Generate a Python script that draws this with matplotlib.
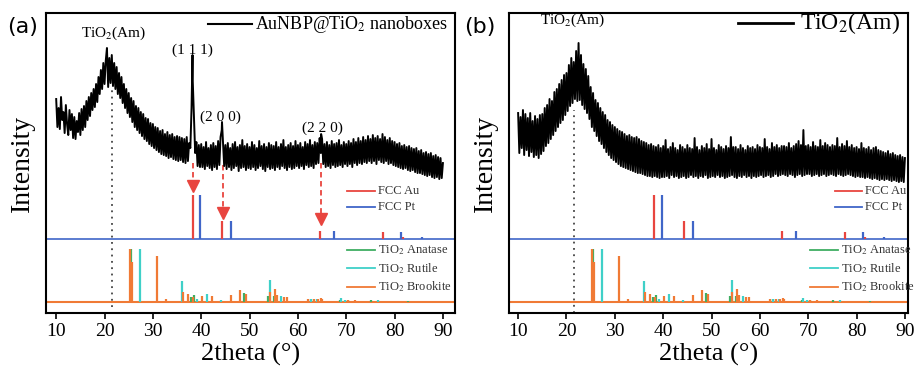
import numpy as np
import matplotlib.pyplot as plt

plt.rcParams['font.family'] = 'serif'
plt.rcParams['font.serif'] = ['Liberation Serif', 'DejaVu Serif']
plt.rcParams['mathtext.fontset'] = 'stix'

# XRD scans, every 0.25 deg from 10 to 90 (a.u., with offset)
two_theta = np.arange(10, 90.001, 0.25)

nanobox = [214, 186, 205, 184, 216, 193, 201, 180, 208, 189, 178, 203, 183, 199, 175, 196, 174, 192, 181, 200,
           178, 204, 183, 207, 186, 212, 193, 216, 197, 220, 203, 224, 206, 229, 211, 236, 219, 243, 224, 250,
           229, 252, 265, 226, 255, 230, 258, 227, 250, 224, 246, 219, 240, 215, 236, 210, 229, 205, 224, 200,
           220, 196, 215, 191, 212, 186, 207, 183, 205, 180, 201, 177, 199, 174, 195, 172, 194, 169, 190, 167,
           189, 165, 186, 163, 185, 161, 182, 159, 183, 158, 179, 157, 181, 155, 178, 156, 179, 154, 176, 153,
           177, 152, 176, 153, 175, 151, 174, 150, 176, 152, 170, 165, 205, 232, 195, 160, 171, 147, 168, 146,
           169, 146, 166, 144, 171, 147, 165, 145, 168, 143, 170, 146, 167, 144, 172, 148, 176, 183, 172, 147,
           168, 144, 170, 146, 165, 143, 169, 145, 171, 147, 166, 142, 168, 145, 173, 146, 167, 143, 169, 145,
           166, 144, 171, 146, 168, 143, 165, 145, 172, 147, 167, 144, 169, 142, 166, 146, 170, 144, 168, 145,
           167, 143, 171, 146, 166, 144, 169, 147, 173, 145, 166, 143, 168, 146, 170, 144, 167, 145, 172, 147,
           168, 145, 170, 147, 166, 144, 171, 148, 169, 146, 173, 147, 168, 145, 171, 149, 170, 150, 175, 160,
           174, 149, 169, 146, 171, 147, 168, 145, 172, 148, 169, 146, 170, 147, 173, 148, 168, 146, 171, 149,
           169, 147, 172, 149, 170, 146, 174, 150, 171, 148, 175, 150, 172, 149, 176, 151, 173, 150, 177, 152,
           174, 150, 178, 152, 175, 149, 177, 153, 174, 151, 179, 150, 176, 152, 173, 149, 175, 150, 172, 148,
           171, 147, 169, 146, 170, 145, 167, 144, 168, 145, 166, 143, 167, 142, 165, 143, 164, 141, 165, 140,
           162, 140, 163, 139, 160, 138, 161, 137, 159, 138, 160, 136, 157, 135, 158, 136, 156, 134, 155, 135,
           150]
nanobox_peak_x = [38.2, 44.3, 64.8]
nanobox_peak_y = [258, 191, 179]

amorphous = [200, 160, 196, 165, 203, 158, 199, 163, 195, 157, 200, 161, 192, 156, 197, 158, 194, 155, 198, 159,
             199, 162, 205, 167, 208, 170, 214, 174, 212, 178, 221, 182, 224, 186, 229, 190, 233, 193, 238, 198,
             240, 202, 248, 207, 255, 210, 251, 214, 262, 212, 270, 213, 258, 208, 249, 204, 244, 200, 237, 194,
             226, 186, 220, 182, 213, 177, 210, 172, 205, 169, 201, 165, 198, 161, 193, 158, 191, 155, 188, 153,
             186, 151, 184, 149, 182, 147, 181, 146, 179, 145, 177, 144, 178, 143, 176, 142, 175, 141, 176, 140,
             174, 140, 172, 139, 171, 138, 170, 137, 168, 137, 169, 136, 167, 137, 166, 136, 168, 135, 165, 136,
             167, 136, 173, 137, 164, 135, 166, 138, 170, 136, 165, 137, 163, 135, 168, 136, 166, 137, 164, 135,
             168, 136, 165, 138, 164, 136, 175, 137, 166, 135, 163, 137, 167, 136, 165, 138, 169, 135, 164, 136,
             174, 137, 165, 136, 163, 138, 168, 136, 166, 137, 164, 135, 167, 136, 165, 137, 176, 138, 166, 136,
             166, 135, 164, 137, 168, 136, 165, 138, 163, 136, 167, 137, 165, 135, 166, 137, 164, 136, 168, 137,
             166, 138, 165, 136, 174, 137, 166, 138, 164, 136, 170, 137, 166, 139, 168, 137, 165, 138, 167, 139,
             167, 138, 166, 137, 170, 139, 165, 138, 167, 136, 169, 138, 172, 139, 168, 137, 183, 138, 167, 139,
             168, 139, 166, 137, 171, 138, 167, 139, 166, 137, 173, 138, 167, 139, 170, 137, 168, 138, 166, 139,
             168, 138, 167, 137, 175, 139, 166, 138, 169, 137, 167, 138, 172, 139, 166, 138, 168, 137, 165, 136,
             166, 137, 164, 136, 170, 136, 165, 135, 164, 136, 166, 135, 163, 134, 165, 135, 166, 134, 163, 133,
             162, 134, 161, 133, 160, 134, 162, 133, 159, 132, 160, 133, 158, 132, 157, 131, 158, 132, 156, 131,
             155]

# reference cards (position, relative height)
au_pos = [38.2, 44.4, 64.6, 77.6, 81.7]
au_h = [44, 18, 8, 7, 2]
pt_pos = [39.8, 46.2, 67.5, 81.3, 85.7]
pt_h = [44, 18, 8, 7, 2]

anatase_pos = [25.45, 37.8, 38.5, 48.9, 53.9, 55.1, 62.7, 68.8, 70.3, 75.1, 82.7]
anatase_h = [53, 5, 7, 9, 6, 6, 3, 2, 2, 2, 1]
rutile_pos = [27.4, 36.1, 39.2, 41.2, 44.0, 54.3, 56.6, 62.8, 64.0, 69.0, 69.8, 76.5]
rutile_h = [53, 21, 3, 8, 2, 22, 6, 3, 3, 4, 2, 2]
brookite_pos = [25.3, 25.65, 30.8, 32.8, 36.2, 37.3, 38.4, 40.2, 42.3, 46.1, 48.0,
                49.2, 54.2, 55.2, 55.7, 57.2, 57.7, 62.0, 63.4, 64.1, 64.7, 65.0,
                70.4, 71.9, 77.2, 83.6, 84.3]
brookite_h = [53, 40, 46, 3, 10, 8, 5, 6, 6, 7, 12, 8, 10, 13, 7, 5, 5, 3, 3, 3,
              4, 3, 2, 2, 1, 1, 1]

metal_base = 74
tio2_base = 11

c_au = '#e8453f'
c_pt = '#4066c8'
c_ana = '#3fae62'
c_rut = '#3fd0c8'
c_bro = '#f07a35'


def legend_rows(ax, x0, x1, ys, colors, labels, size):
    for y, c, lab in zip(ys, colors, labels):
        ax.plot([x0, x1], [y, y], color=c, lw=1.3, transform=ax.transAxes,
                clip_on=False)
        ax.text(x1 + 0.008, y, lab, transform=ax.transAxes, fontsize=size,
                va='center', ha='left', color='#333333')


def draw_refs(ax, leg_metal_x, leg_tio2_x):
    ax.axhline(tio2_base, color=c_bro, lw=1.5, zorder=1)
    ax.vlines(anatase_pos, tio2_base, np.array(anatase_h) + tio2_base,
              color=c_ana, lw=1.6)
    ax.vlines(rutile_pos, tio2_base, np.array(rutile_h) + tio2_base,
              color=c_rut, lw=1.6)
    ax.vlines(brookite_pos, tio2_base, np.array(brookite_h) + tio2_base,
              color=c_bro, lw=1.6)
    ax.axhline(metal_base, color=c_pt, lw=1.2, zorder=1)
    ax.vlines(au_pos, metal_base, np.array(au_h) + metal_base, color=c_au, lw=1.6)
    ax.vlines(pt_pos, metal_base, np.array(pt_h) + metal_base, color=c_pt, lw=1.6)
    legend_rows(ax, leg_metal_x[0], leg_metal_x[1], [0.407, 0.353],
                [c_au, c_pt], ['FCC Au', 'FCC Pt'], 9)
    legend_rows(ax, leg_tio2_x[0], leg_tio2_x[1], [0.21, 0.15, 0.087],
                [c_ana, c_rut, c_bro],
                ['TiO$_2$ Anatase', 'TiO$_2$ Rutile', 'TiO$_2$ Brookite'], 9)


def style(ax, xlim):
    ax.set_xlim(*xlim)
    ax.set_ylim(0, 300)
    ax.set_yticks([])
    ax.set_xticks(range(10, 91, 10))
    ax.tick_params(axis='x', direction='out', length=4, width=1.2,
                   labelsize=14, pad=3)
    for s in ax.spines.values():
        s.set_linewidth(1.5)
    ax.set_xlabel('2theta (°)', fontsize=19, labelpad=2)
    ax.set_ylabel('Intensity', fontsize=20, labelpad=8)


fig = plt.figure(figsize=(9.17, 3.71), dpi=100)
ax1 = fig.add_axes([0.0502, 0.156, 0.446, 0.809])
ax2 = fig.add_axes([0.555, 0.156, 0.435, 0.809])

# panel (a)
x_a = np.concatenate([two_theta, nanobox_peak_x])
y_a = np.concatenate([nanobox, nanobox_peak_y])
order = np.argsort(x_a)
ax1.plot(x_a[order], y_a[order], color='black', lw=1.4, zorder=3)
ax1.plot([21.5, 21.5], [6, 225], color='#444444', lw=1.3, ls=(0, (1, 2.5)))
draw_refs(ax1, (0.736, 0.804), (0.736, 0.804))

arrow_x = [38.2, 44.5, 64.8]
arrow_from = [150, 148, 150]
arrow_to = [123, 96, 90]
for xa, y0, y1 in zip(arrow_x, arrow_from, arrow_to):
    ax1.plot([xa, xa], [y0, y1 + 6], color=c_au, lw=1.3, ls=(0, (3, 2)))
    ax1.plot(xa, y1 + 4, marker='v', color=c_au, ms=8, mec=c_au)

ax1.text(21.8, 280, 'TiO$_2$(Am)', fontsize=11, ha='center', va='center')
ax1.text(38.1, 263, '(1 1 1)', fontsize=11, ha='center', va='center')
ax1.text(43.9, 196, '(2 0 0)', fontsize=11, ha='center', va='center')
ax1.text(65.0, 185, '(2 2 0)', fontsize=11, ha='center', va='center')
ax1.plot([0.396, 0.504], [0.963, 0.963], color='black', lw=1.5,
         transform=ax1.transAxes)
ax1.text(0.511, 0.963, 'AuNBP@TiO$_2$ nanoboxes', fontsize=13,
         transform=ax1.transAxes, va='center', ha='left')
style(ax1, (7.9, 92.5))

# panel (b)
ax2.plot(two_theta, amorphous, color='black', lw=1.4, zorder=3)
ax2.plot([21.5, 21.5], [0, 203], color='#444444', lw=1.3, ls=(0, (1, 2.5)))
draw_refs(ax2, (0.817, 0.885), (0.755, 0.825))
ax2.text(21.2, 293, 'TiO$_2$(Am)', fontsize=11, ha='center', va='center')
ax2.plot([0.574, 0.712], [0.965, 0.965], color='black', lw=2,
         transform=ax2.transAxes)
ax2.text(0.729, 0.965, 'TiO$_2$(Am)', fontsize=17,
         transform=ax2.transAxes, va='center', ha='left')
style(ax2, (8.1, 90.6))

fig.text(0.025, 0.927, '(a)', fontsize=16, family='DejaVu Sans',
         ha='center', va='center')
fig.text(0.523, 0.927, '(b)', fontsize=16, family='DejaVu Sans',
         ha='center', va='center')

fig.savefig('out.png', dpi=100)
